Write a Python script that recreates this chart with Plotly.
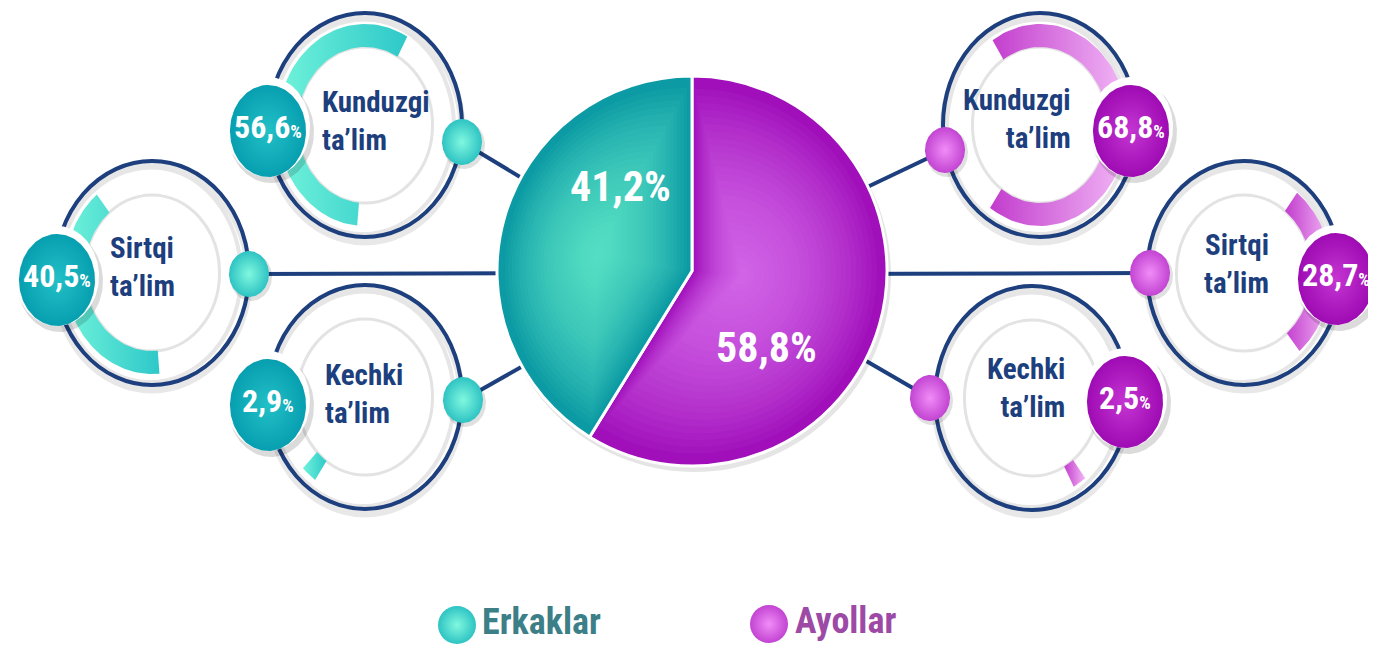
import numpy as np
import plotly.graph_objects as go

# ---------------- data ----------------
gender_labels = ["Erkaklar", "Ayollar"]
gender_share = [41.2, 58.8]
study_forms = ["Kunduzgi<br>ta’lim", "Sirtqi<br>ta’lim", "Kechki<br>ta’lim"]
men_share = [56.6, 40.5, 2.9]
women_share = [68.8, 28.7, 2.5]

# ---------------- layout constants (page pixels) ----------------
PAGE_W, PAGE_H = 1376, 645
OFF = 8  # default body margin of the html page
W, H = PAGE_W - OFF, PAGE_H - OFF
PIE_C, PIE_R = (692, 271), 195
GLOW_C = [(597, 255), (742, 275)]  # highlight centres (Erkaklar, Ayollar)
ASPECT = 0.866
RING_RY = 112
BAND_IN, BAND_OUT = 78, 101
left_centers = [(365, 125), (152, 273), (365, 397)]
right_centers = [(1040, 125), (1244, 273), (1032, 398)]
left_arc_mid = [287, 248, 220]
right_arc_mid = [91, 89, 147]
left_badges = [(268, 127), (57, 276), (268, 401)]
right_badges = [(1131, 127), (1336, 275), (1125, 398)]
left_dots = [(462, 142), (249, 274), (463, 400)]
right_dots = [(945, 150), (1150, 273), (930, 398)]
left_line_end = [(545, 192), (600, 273), (560, 345)]
right_line_end = [(840, 200), (800, 274), (830, 340)]
left_label_pos = [(320, 121), (108, 267), (323, 394)]
right_label_pos = [(1073, 119), (1271, 264), (1067, 388)]
pie_label_pos = [(620, 186), (766, 347)]

NAVY = "#1d3f7d"
FONT = "Roboto Condensed, Liberation Sans Narrow, Arial Narrow, Roboto, sans-serif"
TEAL = dict(pie="#0c9aa4", glow="#78f7dc", band_l="#70f3da", band_r="#2ec8c9", badge_c="#22c0c7",
            badge_e="#079fb0", dot_c="#80f8df", dot_e="#2ec3c3")
MAG = dict(pie="#a00fba", glow="#f08cf6", band_l="#c23ccd", band_r="#f2b8f6", badge_c="#c535d2",
           badge_e="#9e0bb3", dot_c="#f18cf7", dot_e="#c244d2")


def fmt(v):
    return f"{v:.1f}".replace(".", ",")


def ellipse_xy(cx, cy, rx, ry, n=160):
    t = np.linspace(0, 2 * np.pi, n)
    return cx + rx * np.sin(t), cy - ry * np.cos(t)


def arc_xy(cx, cy, share, mid_deg):
    span = 360.0 * share / 100.0
    t = np.radians(np.linspace(mid_deg - span / 2, mid_deg + span / 2, 90))
    xo = cx + BAND_OUT * ASPECT * np.sin(t)
    yo = cy - BAND_OUT * np.cos(t)
    xi = cx + BAND_IN * ASPECT * np.sin(t[::-1])
    yi = cy - BAND_IN * np.cos(t[::-1])
    return np.r_[xo, xi, xo[:1]], np.r_[yo, yi, yo[:1]]


fig = go.Figure()
shapes = []

# connector lines (under everything)
for (d, e) in list(zip(left_dots, left_line_end)) + list(zip(right_dots, right_line_end)):
    shapes.append(dict(type="line", x0=d[0], y0=d[1], x1=e[0], y1=e[1],
                       line=dict(color=NAVY, width=4), layer="below"))

# pie shadow
shapes.append(dict(type="circle", x0=PIE_C[0] - PIE_R + 1, x1=PIE_C[0] + PIE_R + 4,
                   y0=PIE_C[1] - PIE_R + 2, y1=PIE_C[1] + PIE_R + 6,
                   fillcolor="rgba(0,0,0,0.10)", line=dict(width=0), layer="below"))

# rings
rx_n = RING_RY * ASPECT
for (cx, cy) in left_centers + right_centers:
    shapes.append(dict(type="circle", x0=cx - rx_n, x1=cx + rx_n, y0=cy - RING_RY + 5, y1=cy + RING_RY + 5,
                       line=dict(color="#e8e8e8", width=7), layer="below"))
    shapes.append(dict(type="circle", x0=cx - rx_n + 4, x1=cx + rx_n - 8, y0=cy - RING_RY + 6, y1=cy + RING_RY - 3,
                       line=dict(color="#e6e6e6", width=4), layer="below"))
    shapes.append(dict(type="circle", x0=cx - rx_n, x1=cx + rx_n, y0=cy - RING_RY, y1=cy + RING_RY,
                       line=dict(color=NAVY, width=4), layer="below"))
    shapes.append(dict(type="circle", x0=cx - BAND_IN * ASPECT, x1=cx + BAND_IN * ASPECT,
                       y0=cy - BAND_IN, y1=cy + BAND_IN,
                       fillcolor="white", line=dict(color="#e3e3e3", width=3), layer="below"))

# arcs
for (cx, cy), v, mid in zip(left_centers, men_share, left_arc_mid):
    x, y = arc_xy(cx, cy, v, mid)
    fig.add_trace(go.Scatter(x=x, y=y, mode="lines", fill="toself", line=dict(width=0),
                             fillcolor=TEAL["band_l"],
                             fillgradient=dict(type="horizontal",
                                               colorscale=[[0, TEAL["band_l"]], [1, TEAL["band_r"]]]),
                             hoverinfo="skip", showlegend=False))
for (cx, cy), v, mid in zip(right_centers, women_share, right_arc_mid):
    x, y = arc_xy(cx, cy, v, mid)
    fig.add_trace(go.Scatter(x=x, y=y, mode="lines", fill="toself", line=dict(width=0),
                             fillcolor=MAG["band_l"],
                             fillgradient=dict(type="horizontal",
                                               colorscale=[[0, MAG["band_l"]], [1, MAG["band_r"]]]),
                             hoverinfo="skip", showlegend=False))


def blob(cx, cy, rx, ry, center, edge):
    x, y = ellipse_xy(cx, cy, rx, ry)
    fig.add_trace(go.Scatter(x=x, y=y, mode="lines", fill="toself", line=dict(width=0),
                             fillcolor=edge,
                             fillgradient=dict(type="radial", colorscale=[[0, center], [1, edge]]),
                             hoverinfo="skip", showlegend=False))


def plain(cx, cy, rx, ry, color):
    x, y = ellipse_xy(cx, cy, rx, ry)
    fig.add_trace(go.Scatter(x=x, y=y, mode="lines", fill="toself", line=dict(width=0),
                             fillcolor=color, hoverinfo="skip", showlegend=False))


# dots and badges
for pal, dots, badges in ((TEAL, left_dots, left_badges), (MAG, right_dots, right_badges)):
    for (dx, dy) in dots:
        plain(dx + 2, dy + 3, 21, 24, "rgba(0,0,0,0.12)")
        blob(dx, dy, 20, 23, pal["dot_c"], pal["dot_e"])
    for (bx, by) in badges:
        plain(bx + 3, by + 5, 43, 51, "rgba(0,0,0,0.14)")
        plain(bx, by, 42, 50, "white")
        blob(bx, by + 4, 38, 46, pal["badge_c"], pal["badge_e"])

# legend markers
fig.add_trace(go.Scatter(x=[457, 769], y=[625, 624], mode="markers",
                         marker=dict(size=38, color=[TEAL["dot_e"], MAG["dot_e"]],
                                     gradient=dict(type="radial", color=[TEAL["dot_c"], MAG["dot_c"]]),
                                     line=dict(width=0)),
                         hoverinfo="skip", showlegend=False))

# central pie (clockwise from 12 o'clock: Ayollar first, then Erkaklar)
fig.add_trace(go.Pie(labels=gender_labels[::-1], values=gender_share[::-1],
                     marker=dict(colors=[MAG["pie"], TEAL["pie"]], line=dict(color="white", width=3)),
                     sort=False, direction="clockwise", rotation=0, textinfo="none",
                     hoverinfo="label+percent", showlegend=False,
                     domain=dict(x=[(PIE_C[0] - PIE_R - OFF) / W, (PIE_C[0] + PIE_R - OFF) / W],
                                 y=[(PAGE_H - PIE_C[1] - PIE_R) / H, (PAGE_H - PIE_C[1] + PIE_R) / H])))

# soft highlight inside each slice (shrunken copies of the slice toward its highlight centre)
mag_deg = 360.0 * gender_share[1] / 100.0
slice_spans = [(mag_deg, 360.0), (0.0, mag_deg)]  # Erkaklar, Ayollar
for (a0, a1), (gx, gy), pal in zip(slice_spans, GLOW_C, (TEAL, MAG)):
    t = np.radians(np.linspace(a0, a1, 120))
    r = PIE_R - 3
    px = np.r_[PIE_C[0], PIE_C[0] + r * np.sin(t)]
    py = np.r_[PIE_C[1], PIE_C[1] - r * np.cos(t)]
    for f in np.linspace(0.95, 0.05, 26):
        qx = gx + f * (px - gx)
        qy = gy + f * (py - gy)
        path = "M " + " L ".join(f"{a:.1f},{b:.1f}" for a, b in zip(qx, qy)) + " Z"
        shapes.append(dict(type="path", path=path, fillcolor=pal["glow"], opacity=0.052,
                           line=dict(width=0), layer="above"))

ann = []
for (px_, py_), v in zip(pie_label_pos, gender_share):
    ann.append(dict(x=px_, y=py_, text=f"{fmt(v)}%", showarrow=False,
                    font=dict(family=FONT, size=42, color="white", weight=700)))
for (bx, by), v in list(zip(left_badges, men_share)) + list(zip(right_badges, women_share)):
    ann.append(dict(x=bx, y=by, text=f"{fmt(v)}<span style='font-size:18px'>%</span>", showarrow=False,
                    font=dict(family=FONT, size=32, color="white", weight=700)))
for (lx, ly), t in zip(left_label_pos, study_forms):
    ann.append(dict(x=lx, y=ly, text=t, showarrow=False, xanchor="left", align="left",
                    font=dict(family=FONT, size=29, color=NAVY, weight=700)))
for (lx, ly), t in zip(right_label_pos, study_forms):
    ann.append(dict(x=lx, y=ly, text=t, showarrow=False, xanchor="right", align="right",
                    font=dict(family=FONT, size=29, color=NAVY, weight=700)))
ann.append(dict(x=480, y=622, text=gender_labels[0], showarrow=False, xanchor="left",
                font=dict(family=FONT, size=36, color="#3d7f87", weight=700)))
ann.append(dict(x=793, y=621, text=gender_labels[1], showarrow=False, xanchor="left",
                font=dict(family=FONT, size=36, color="#9d4aa6", weight=700)))

fig.update_layout(
    width=W, height=H, margin=dict(l=0, r=0, t=0, b=0),
    paper_bgcolor="white", plot_bgcolor="white",
    xaxis=dict(range=[OFF, PAGE_W], visible=False, fixedrange=True),
    yaxis=dict(range=[PAGE_H, OFF], visible=False, fixedrange=True),
    shapes=shapes, annotations=ann, separators=", ", showlegend=False,
)
fig.write_html("out.html", config=dict(displayModeBar=False))
